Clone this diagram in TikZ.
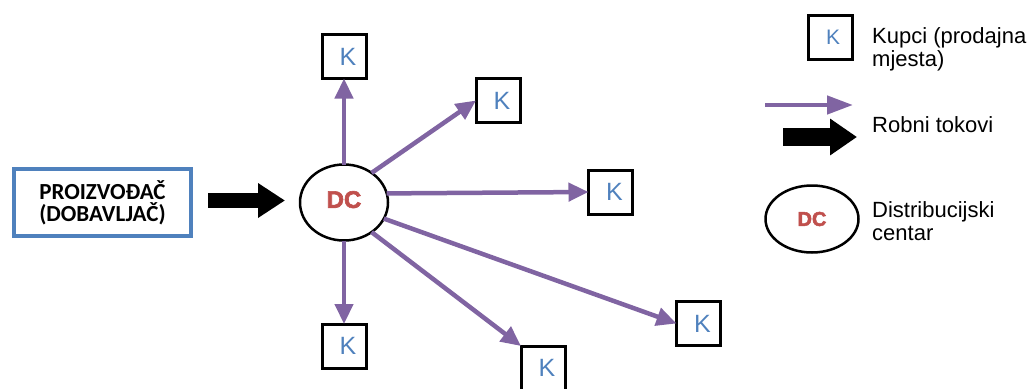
\documentclass[tikz,border=0pt]{standalone}
\usepackage{fontspec}
\setmainfont{Liberation Sans}
\newfontfamily\boxfont{Carlito}
\newfontfamily\dcfont[FakeBold=2.5]{Liberation Sans Bold}
\usetikzlibrary{arrows.meta,shapes.geometric}
\definecolor{tokpurple}{RGB}{128,100,162}
\definecolor{kblue}{RGB}{79,129,189}
\definecolor{dcred}{RGB}{192,80,77}
\tikzset{
    kupac/.style={draw,line width=3pt,minimum size=44pt,inner sep=0pt,outer sep=0pt,
      text=kblue,font=\fontsize{25}{25}\selectfont},
    centar/.style={draw,ellipse,line width=2.5pt,minimum width=88pt,minimum height=76pt,
      inner sep=0pt,outer sep=0pt,text=dcred,font=\dcfont\fontsize{24}{24}\selectfont},
    tok/.style={tokpurple,line width=4.5pt,-{Triangle[length=20pt,width=18pt]}},
    veliki/.style={line width=15pt,-{Triangle[length=27pt,width=33pt]}},
    legtekst/.style={anchor=base west,align=left,inner sep=0pt,
      font=\fontsize{22}{23}\selectfont},
  }
\begin{document}
\begin{tikzpicture}[x=1pt,y=-1pt]
				  \useasboundingbox (0,0) rectangle (1027,388);
				  %PROIZVODAC et DC
				  \node[draw=kblue,line width=4pt,minimum width=177pt,minimum height=67pt,
				        align=center,font=\boxfont\fontsize{23}{22}\selectfont\bfseries]
				        (prod) at (102.5,202.5) {PROIZVOĐAČ\\(DOBAVLJAČ)};
				  \node[centar] (dc) at (344,202.5) {\raisebox{6pt}{DC}};
				  \draw[veliki,shorten <=15pt,shorten >=15pt] (prod.east) ++(0,-2) coordinate (pa) (pa) -- (dc.west |- pa);

				  %KUPCI
				  \node[kupac] (k1) at (344,56.5) {\raisebox{-5pt}{\hspace{8pt}K}};
				  \node[kupac] (k2) at (498,100.5) {\raisebox{-5pt}{\hspace{8pt}K}};
				  \node[kupac] (k3) at (610.5,192) {\raisebox{-5pt}{\hspace{8pt}K}};
				  \node[kupac] (k4) at (344,346) {\raisebox{-5pt}{\hspace{8pt}K}};
				  \node[kupac] (k5) at (543,368) {\raisebox{-5pt}{\hspace{8pt}K}};
				  \node[kupac] (k6) at (698.5,323.5) {\raisebox{-5pt}{\hspace{8pt}K}};

				  %TOKOVI
				  \draw[tok] (dc.north) -- (k1.south);
				  \draw[tok] (dc.47) -- (k2.west);
				  \draw[tok] (dc.12) -- (k3.west);
				  \draw[tok] (dc.south) -- (k4.north);
				  \draw[tok] (dc.-47) -- (k5.north west);
				  \draw[tok] (dc.-22) -- (k6.west);

				  %LEGENDA
				  \node[kupac,font=\fontsize{21}{21}\selectfont] (lk) at (830,37) {\raisebox{-3pt}{\hspace{6pt}K}};
				  \node[legtekst] (lkt) at (872,66) {Kupci (prodajna\\mjesta)};
				  \coordinate (la1) at (765,105);
				  \coordinate (lb1) at (853,105);
				  \draw[tok,-{Triangle[length=26pt,width=18pt]}] (la1) -- (lb1);
				  \coordinate (la2) at (783,137);
				  \coordinate (lb2) at (857,137);
				  \draw[line width=18pt,-{Triangle[length=27pt,width=35pt]}] (la2) -- (lb2);
				  \node[legtekst] (ltt) at (872,132) {Robni tokovi};
				  \node[centar,minimum width=93pt,minimum height=67pt,
				        font=\dcfont\fontsize{20}{20}\selectfont] (ldc) at (812,219) {DC};
				  \node[legtekst] (ldt) at (872,240) {Distribucijski\\centar};
\end{tikzpicture}
\end{document}
